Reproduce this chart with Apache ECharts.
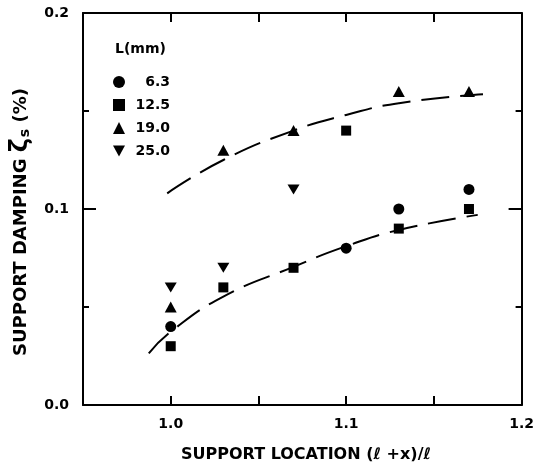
<!DOCTYPE html>
<html><head><meta charset="utf-8">
<script src="https://cdn.jsdelivr.net/npm/echarts@6/dist/echarts.min.js"></script>
<style>html,body{margin:0;padding:0;background:#fff}#c{width:537px;height:466px}</style>
</head><body><div id="c"></div>
<script>
// ---- data ----
const seriesNames = ['6.3', '12.5', '19.0', '25.0'];
const d63  = [[1.00, 0.04], [1.10, 0.08], [1.13, 0.10], [1.17, 0.11]];
const d125 = [[1.00, 0.03], [1.03, 0.06], [1.07, 0.07], [1.10, 0.14], [1.13, 0.09], [1.17, 0.10]];
const d190 = [[1.00, 0.05], [1.03, 0.13], [1.07, 0.14], [1.13, 0.16], [1.17, 0.16]];
const d250 = [[1.00, 0.06], [1.03, 0.07], [1.07, 0.11]];
const upperFit = [[0.998, 0.108], [1.03, 0.125], [1.07, 0.140], [1.10, 0.148], [1.13, 0.154], [1.178, 0.1585]];
const lowerFit = [[0.9875, 0.0264], [1.00, 0.0374], [1.03, 0.0553], [1.07, 0.0705], [1.10, 0.081], [1.13, 0.0893], [1.175, 0.097]];
const xLabelValues = [1.0, 1.1, 1.2];
const yLabelValues = [0.0, 0.1, 0.2];
const legendTitle = 'L(mm)';
const xTitle = 'SUPPORT LOCATION (ℓ +x)/ℓ';

const FF = '"DejaVu Sans", "Liberation Sans", sans-serif';
const near = (v, arr) => arr.some(a => Math.abs(a - v) < 1e-6);

const chart = echarts.init(document.getElementById('c'), null, {renderer: 'canvas'});

const tickStyle = {color: '#000', width: 2};
const makeX = (pos) => ({
  type: 'value', min: 0.95, max: 1.2, interval: 0.05, position: pos,
  axisLine: {show: true, onZero: false, lineStyle: {color: '#000', width: 2}},
  axisTick: {show: true, inside: true, length: 9, lineStyle: tickStyle},
  splitLine: {show: false}
});
const makeY = (pos) => ({
  type: 'value', min: 0, max: 0.2, interval: 0.1, position: pos,
  axisLine: {show: true, onZero: false, lineStyle: {color: '#000', width: 2}},
  axisTick: {show: true, inside: true, length: 13, lineStyle: tickStyle},
  minorTick: {show: true, splitNumber: 2, length: 6, lineStyle: tickStyle},
  splitLine: {show: false}
});

const scatter = (name, data, symbol, size) => ({
  name: name, type: 'scatter', data: data, symbol: symbol, symbolSize: size,
  itemStyle: {color: '#000', opacity: 1}, z: 3
});
const fit = (data) => ({
  type: 'line', data: data, smooth: true, showSymbol: false, symbol: 'none',
  lineStyle: {color: '#000', width: 2, type: [28, 11]}, silent: true, z: 2
});

const xBottom = makeX('bottom');
xBottom.axisLabel = {
  margin: 12, fontFamily: FF, fontWeight: 'bold', fontSize: 14, color: '#000',
  formatter: v => near(v, xLabelValues) ? v.toFixed(1) : ''
};
const xTop = makeX('top');
xTop.axisLabel = {show: false};
const yLeft = makeY('left');
yLeft.axisLabel = {
  margin: 14, fontFamily: FF, fontWeight: 'bold', fontSize: 14, color: '#000',
  formatter: v => near(v, yLabelValues) ? v.toFixed(1) : ''
};
const yRight = makeY('right');
yRight.axisLabel = {show: false};

chart.setOption({
  backgroundColor: '#fff',
  animation: false,
  grid: {left: 83, right: 9, top: 13, bottom: 61},
  title: {
    text: legendTitle, left: 110, top: 37,
    textStyle: {fontFamily: FF, fontWeight: 'bold', fontSize: 14, color: '#000'}
  },
  legend: {
    data: seriesNames, orient: 'vertical', left: 108, top: 70,
    itemWidth: 12, itemHeight: 12, itemGap: 9,
    formatter: '{a|{name}}',
    textStyle: {
      fontFamily: FF, fontWeight: 'bold', fontSize: 14, color: '#000',
      rich: {a: {width: 40, align: 'right', lineHeight: 14, fontFamily: FF, fontWeight: 'bold', fontSize: 14, color: '#000'}}
    }
  },
  xAxis: [xBottom, xTop],
  yAxis: [yLeft, yRight],
  graphic: [{
    type: 'text', x: 21, y: 222, rotation: Math.PI / 2,
    style: {
      text: '{t|SUPPORT DAMPING }{z|ζ}{s|s}{t| (%)}',
      align: 'center', verticalAlign: 'middle',
      rich: {
        t: {fontFamily: FF, fontWeight: 'bold', fontSize: 18, fill: '#000'},
        z: {fontFamily: FF, fontWeight: 'bold', fontSize: 24, fill: '#000'},
        s: {fontFamily: FF, fontWeight: 'bold', fontSize: 14, fill: '#000', padding: [9, 0, 0, 1]}
      }
    }
  }, {
    type: 'text', x: 306, y: 455,
    style: {
      text: xTitle, align: 'center', verticalAlign: 'middle',
      fontFamily: FF, fontWeight: 'bold', fontSize: 16, fill: '#000'
    }
  }],
  series: [
    scatter('6.3', d63, 'circle', 11),
    scatter('12.5', d125, 'rect', 10),
    scatter('19.0', d190, 'triangle', [12, 11]),
    scatter('25.0', d250, 'path://M0,0L10,0L5,9Z', [12, 10]),
    fit(upperFit),
    fit(lowerFit)
  ]
});
</script></body></html>
